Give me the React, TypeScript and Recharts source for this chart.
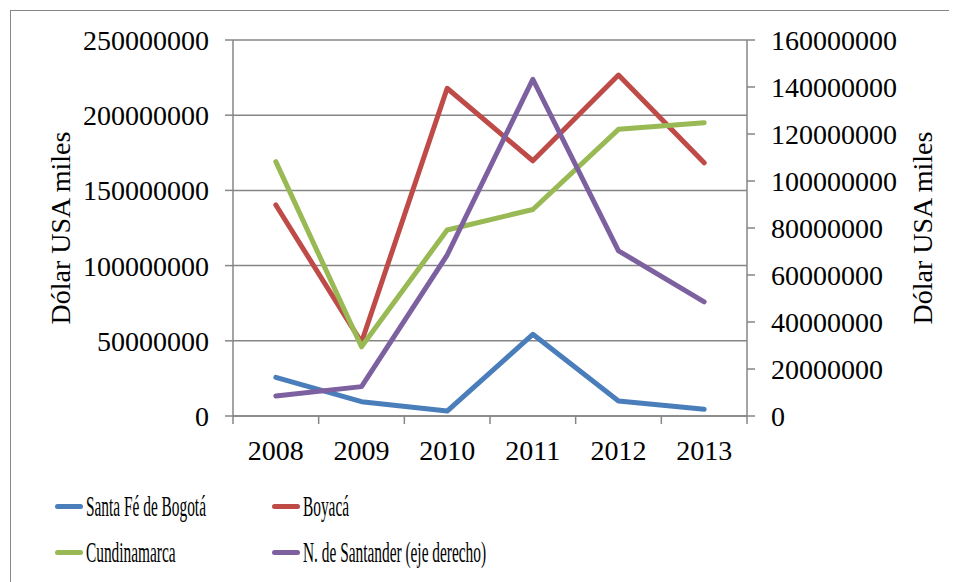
import React from 'react';
import { LineChart, Line, XAxis, YAxis, CartesianGrid, Legend } from 'recharts';

const years = ['2008', '2009', '2010', '2011', '2012', '2013'];
const bogota = [25700000, 9500000, 3300000, 54300000, 10000000, 4500000];
const boyaca = [140300000, 49000000, 217900000, 169700000, 226700000, 168400000];
const cundinamarca = [169100000, 46000000, 123700000, 137300000, 190600000, 195000000];
const santander = [8500000, 12500000, 68500000, 143300000, 70300000, 48600000];

const leftTicks = [0, 50000000, 100000000, 150000000, 200000000, 250000000];
const rightTicks = [0, 20000000, 40000000, 60000000, 80000000, 100000000, 120000000, 140000000, 160000000];
const edgeTicks = [0, 1, 2, 3, 4, 5, 6];

const seriesNames = {
  bogota: 'Santa Fé de Bogotá',
  boyaca: 'Boyacá',
  cundinamarca: 'Cundinamarca',
  santander: 'N. de Santander (eje derecho)',
};
const colors = {
  bogota: '#4A7EBB',
  boyaca: '#BE4B48',
  cundinamarca: '#98B954',
  santander: '#7D60A0',
};

// slot = category index centred within its band (used only for the boundary tick axis)
const data = years.map((y, i) => ({
  year: y,
  slot: i + 0.5,
  bogota: bogota[i],
  boyaca: boyaca[i],
  cundinamarca: cundinamarca[i],
  santander: santander[i],
}));

const FONT = '"Liberation Serif", "Times New Roman", serif';
const GRAY = '#868686';

const legendLayout: { key: keyof typeof colors; left: number; top: number }[] = [
  { key: 'bogota', left: 44, top: 37 },
  { key: 'boyaca', left: 261, top: 37 },
  { key: 'cundinamarca', left: 44, top: 83 },
  { key: 'santander', left: 261, top: 83 },
];

const LegendContent = () => (
  <div style={{ position: 'relative', width: 946, height: 113 }}>
    {legendLayout.map((it) => (
      <div
        key={it.key}
        style={{
          position: 'absolute',
          left: it.left,
          top: it.top - 20,
          height: 40,
          display: 'flex',
          alignItems: 'center',
          whiteSpace: 'nowrap',
        }}
      >
        <div
          style={{
            width: 28,
            height: 5,
            borderRadius: 3,
            background: colors[it.key],
            marginRight: 3,
          }}
        />
        <span
          style={{
            display: 'inline-block',
            fontFamily: FONT,
            fontSize: 29,
            lineHeight: '40px',
            color: '#000',
            transform: 'scaleX(0.53)',
            transformOrigin: 'left center',
          }}
        >
          {seriesNames[it.key]}
        </span>
      </div>
    ))}
  </div>
);

const noLabel = () => '';

export default function App() {
  const tickStyle = { fill: '#000', fontSize: 28, fontFamily: FONT };
  return (
    <div
      style={{
        marginLeft: 2,
        marginTop: 2,
        borderLeft: `1px solid ${GRAY}`,
        borderTop: `1px solid ${GRAY}`,
        width: 946,
        height: 571,
        background: '#fff',
      }}
    >
      <LineChart
        width={946}
        height={571}
        data={data}
        margin={{ top: 29, right: 0, bottom: 0, left: 0 }}
      >
        <CartesianGrid yAxisId="left" vertical={false} stroke={GRAY} strokeWidth={1.5} />
        <XAxis
          xAxisId="a_edge"
          dataKey="slot"
          type="number"
          domain={[0, 6]}
          ticks={edgeTicks}
          tickFormatter={noLabel}
          tickSize={8}
          tickMargin={0}
          height={8}
          stroke={GRAY}
          strokeWidth={1.5}
          allowDataOverflow
        />
        <XAxis
          xAxisId="b_cat"
          dataKey="year"
          scale="band"
          axisLine={false}
          tickLine={false}
          tickSize={0}
          tickMargin={16}
          height={45}
          interval={0}
          tick={tickStyle}
        />
        <YAxis
          yAxisId="left"
          domain={[0, 250000000]}
          ticks={leftTicks}
          width={222}
          tickSize={8}
          tickMargin={16}
          stroke={GRAY}
          strokeWidth={1.5}
          tick={tickStyle}
          interval={0}
          label={{
            value: 'Dólar USA miles',
            angle: -90,
            position: 'center',
            dx: -62,
            style: { fill: '#000', fontSize: 28, fontFamily: FONT },
          }}
        />
        <YAxis
          yAxisId="right"
          orientation="right"
          domain={[0, 160000000]}
          ticks={rightTicks}
          width={210}
          tickSize={8}
          tickMargin={16}
          stroke={GRAY}
          strokeWidth={1.5}
          tick={{ ...tickStyle, textAnchor: 'start' }}
          interval={0}
          label={{
            value: 'Dólar USA miles',
            angle: -90,
            position: 'center',
            dx: 70,
            style: { fill: '#000', fontSize: 28, fontFamily: FONT },
          }}
        />
        <Legend verticalAlign="bottom" content={<LegendContent />} height={113} />
        <Line xAxisId="b_cat" yAxisId="left" dataKey="bogota" name={seriesNames.bogota} stroke={colors.bogota} strokeWidth={5} strokeLinecap="round" strokeLinejoin="round" dot={false} isAnimationActive={false} />
        <Line xAxisId="b_cat" yAxisId="left" dataKey="boyaca" name={seriesNames.boyaca} stroke={colors.boyaca} strokeWidth={5} strokeLinecap="round" strokeLinejoin="round" dot={false} isAnimationActive={false} />
        <Line xAxisId="b_cat" yAxisId="left" dataKey="cundinamarca" name={seriesNames.cundinamarca} stroke={colors.cundinamarca} strokeWidth={5} strokeLinecap="round" strokeLinejoin="round" dot={false} isAnimationActive={false} />
        <Line xAxisId="b_cat" yAxisId="right" dataKey="santander" name={seriesNames.santander} stroke={colors.santander} strokeWidth={5} strokeLinecap="round" strokeLinejoin="round" dot={false} isAnimationActive={false} />
      </LineChart>
    </div>
  );
}
